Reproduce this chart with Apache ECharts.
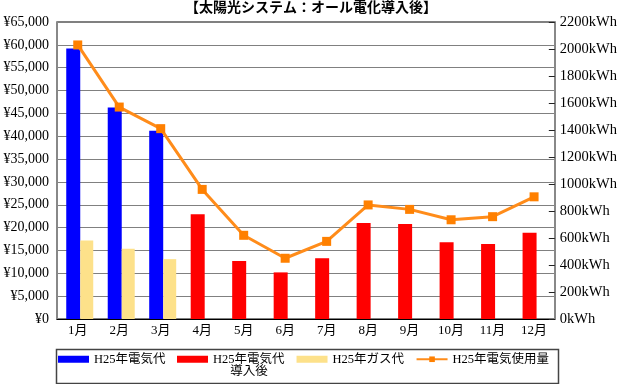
<!DOCTYPE html>
<html><head><meta charset="utf-8">
<script src="https://cdn.jsdelivr.net/npm/echarts@6/dist/echarts.min.js"></script>
<style>html,body{margin:0;padding:0;background:#fff}#c{width:620px;height:384px}</style>
</head><body><div id="c"></div>
<script>
// ---- data ----
const months = ['1月','2月','3月','4月','5月','6月','7月','8月','9月','10月','11月','12月'];
const elecBefore = [59200, 46300, 41200, null, null, null, null, null, null, null, null, null];
const elecAfter  = [null, null, null, 22900, 12700, 10200, 13300, 21000, 20800, 16800, 16400, 18900];
const gasCost    = [17200, 15400, 13100, null, null, null, null, null, null, null, null, null];
const usageKwh   = [2030, 1570, 1410, 960, 620, 450, 575, 845, 812, 735, 758, 905];
const yenMax = 65000, yenStep = 5000;
const kwhMax = 2200, kwhStep = 200;
const titleText = '【太陽光システム：オール電化導入後】';
const names = ['H25年電気代', 'H25年電気代導入後', 'H25年ガス代', 'H25年電気使用量'];

const FF = "'Liberation Serif','Noto Sans CJK JP',serif";
const chart = echarts.init(document.getElementById('c'));
chart.setOption({
  animation: false,
  title: {
    text: titleText, left: 306, top: 0, textAlign: 'center', padding: [1, 5],
    textStyle: {fontFamily: FF, fontSize: 14, fontWeight: 'bold', color: '#000'}
  },
  grid: {left: 57, right: 65, top: 22, bottom: 65, show: true, borderColor: '#000', borderWidth: 1},
  legend: {
    left: 58, top: 353, padding: 0, itemWidth: 31, itemHeight: 7, itemGap: 11.5,
    selectedMode: false,
    textStyle: {fontFamily: FF, fontSize: 12.5, color: '#000'},
    formatter: n => n === names[1] ? '{a|H25年電気代}\n{b|導入後}' : n,
    data: [
      {name: names[0], icon: 'rect', textStyle: {padding: [0, 6, 0, 0]}},
      {name: names[1], icon: 'rect', textStyle: {padding: [12, 0, 0, 0],
        rich: {a: {lineHeight: 12, fontSize: 12.5, fontFamily: FF, color: '#000'}, b: {lineHeight: 12, width: 72, align: 'center', fontSize: 12.5, fontFamily: FF, color: '#000'}}}},
      {name: names[2], icon: 'rect'},
      {name: names[3]}
    ]
  },
  graphic: [{
    type: 'rect', silent: true, z: -1,
    shape: {x: 56.5, y: 349.5, width: 502, height: 34},
    style: {fill: 'none', stroke: '#444', lineWidth: 1.5}
  }],
  xAxis: {
    type: 'category', data: months,
    axisLine: {lineStyle: {color: '#000', width: 1}},
    axisTick: {show: false},
    axisLabel: {fontFamily: FF, fontSize: 13, color: '#000', margin: 5}
  },
  yAxis: [{
    type: 'value', min: 0, max: yenMax, interval: yenStep,
    axisLine: {show: true, lineStyle: {color: '#888', width: 2}},
    axisTick: {show: false},
    splitLine: {lineStyle: {color: '#808080', width: 1}},
    axisLabel: {fontFamily: FF, fontSize: 14, color: '#000', margin: 8,
      formatter: v => '¥' + v.toLocaleString('en-US')}
  }, {
    type: 'value', min: 0, max: kwhMax, interval: kwhStep,
    axisLine: {show: true, lineStyle: {color: '#888', width: 2}},
    axisTick: {show: true, inside: true, length: 6, lineStyle: {color: '#222'}},
    splitLine: {show: false},
    axisLabel: {fontFamily: FF, fontSize: 14.5, color: '#000', margin: 5,
      formatter: v => v + 'kWh'}
  }],
  series: [
    {type: 'bar', name: '_pad', data: [], barWidth: 4, barGap: '0%'},
    {type: 'bar', name: names[0], data: elecBefore, stack: 'elec', barWidth: 14, barGap: '0%',
      itemStyle: {color: '#0000FF'}},
    {type: 'bar', name: names[1], data: elecAfter, stack: 'elec', barWidth: 14, barGap: '0%',
      itemStyle: {color: '#FF0000'}},
    {type: 'bar', name: names[2], data: gasCost, barWidth: 13, barGap: '0%',
      itemStyle: {color: '#FDE18A'}},
    {type: 'line', name: names[3], data: usageKwh, yAxisIndex: 1,
      symbol: 'rect', symbolSize: 9,
      lineStyle: {color: '#FF8C1A', width: 3},
      itemStyle: {color: '#FF8000'}}
  ]
});
</script></body></html>
